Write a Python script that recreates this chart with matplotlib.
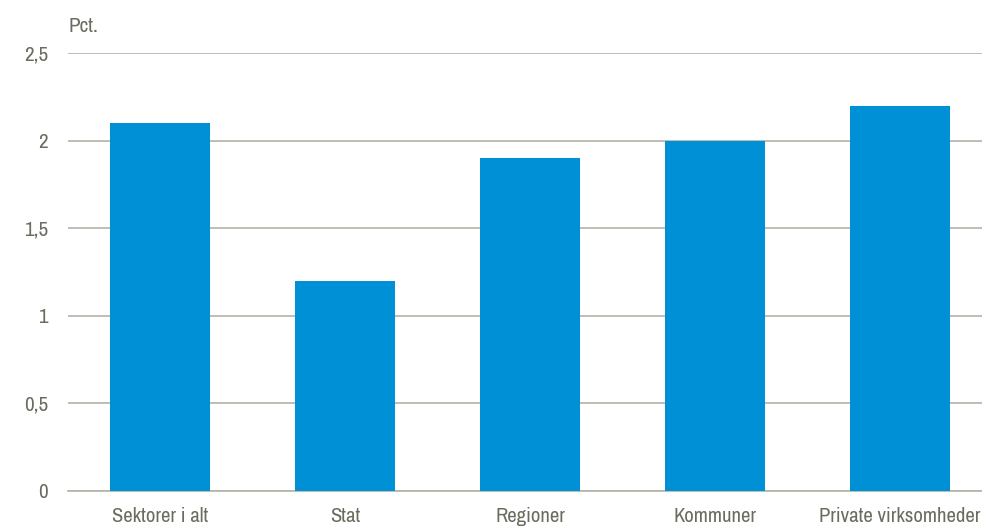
import matplotlib
matplotlib.use("Agg")
import matplotlib.pyplot as plt
from matplotlib import font_manager

categories = ["Sektorer i alt", "Stat", "Regioner", "Kommuner", "Private virksomheder"]
values = [2.1, 1.2, 1.9, 2.0, 2.2]
yticks = [0, 0.5, 1, 1.5, 2, 2.5]
ytick_labels = ["0", "0,5", "1", "1,5", "2", "2,5"]

names = {f.name for f in font_manager.fontManager.ttflist}
fam = "Liberation Sans"
for cand in ["Liberation Sans Narrow", "Arial Narrow", "Archivo Narrow", "Roboto Condensed",
             "PT Sans Narrow", "Open Sans Condensed", "Fira Sans Condensed", "IBM Plex Sans Condensed"]:
    if cand in names:
        fam = cand
        break
plt.rcParams["font.family"] = [fam, "DejaVu Sans"]

W, H = 982, 527
fig = plt.figure(figsize=(W / 100, H / 100), dpi=100)

# fit font size so the longest label is ~162 px wide, as in the reference
probe = fig.text(0, 0, categories[-1], fontsize=10)
r = fig.canvas.get_renderer()
w10 = probe.get_window_extent(r).width
probe.remove()
fs = 10 * 162 / w10
fs_y = fs * 1.02

left, right = 67.5, 982
top, bottom = 53, 491
ax = fig.add_axes([left / W, 1 - bottom / H, (right - left) / W, (bottom - top) / H])

text_color = "#6b6b5e"
grid_color = "#b3b3a8"
bar_color = "#0090d6"

x = list(range(len(categories)))
ax.bar(x, values, width=0.54, color=bar_color, zorder=3)
ax.set_xlim(-0.5, 4.5 - (992.5 - 982) / 185)
ax.set_ylim(0, 2.5)
ax.set_yticks(yticks)
ax.set_yticklabels(ytick_labels)
ax.set_xticks(x)
ax.set_xticklabels(categories)
ax.yaxis.grid(True, color=grid_color, linewidth=1.2, zorder=0)
for s in ["top", "right", "left"]:
    ax.spines[s].set_visible(False)
ax.spines["bottom"].set_color(grid_color)
ax.spines["bottom"].set_linewidth(1.2)
ax.tick_params(axis="both", length=0, colors=text_color)
ax.tick_params(axis="x", labelsize=fs, pad=11.5)
ax.tick_params(axis="y", labelsize=fs_y, pad=14)
fig.text(68 / W, 1 - 27 / H, "Pct.", color=text_color, fontsize=fs_y, ha="left", va="center")

fig.savefig("out.png", dpi=100)
